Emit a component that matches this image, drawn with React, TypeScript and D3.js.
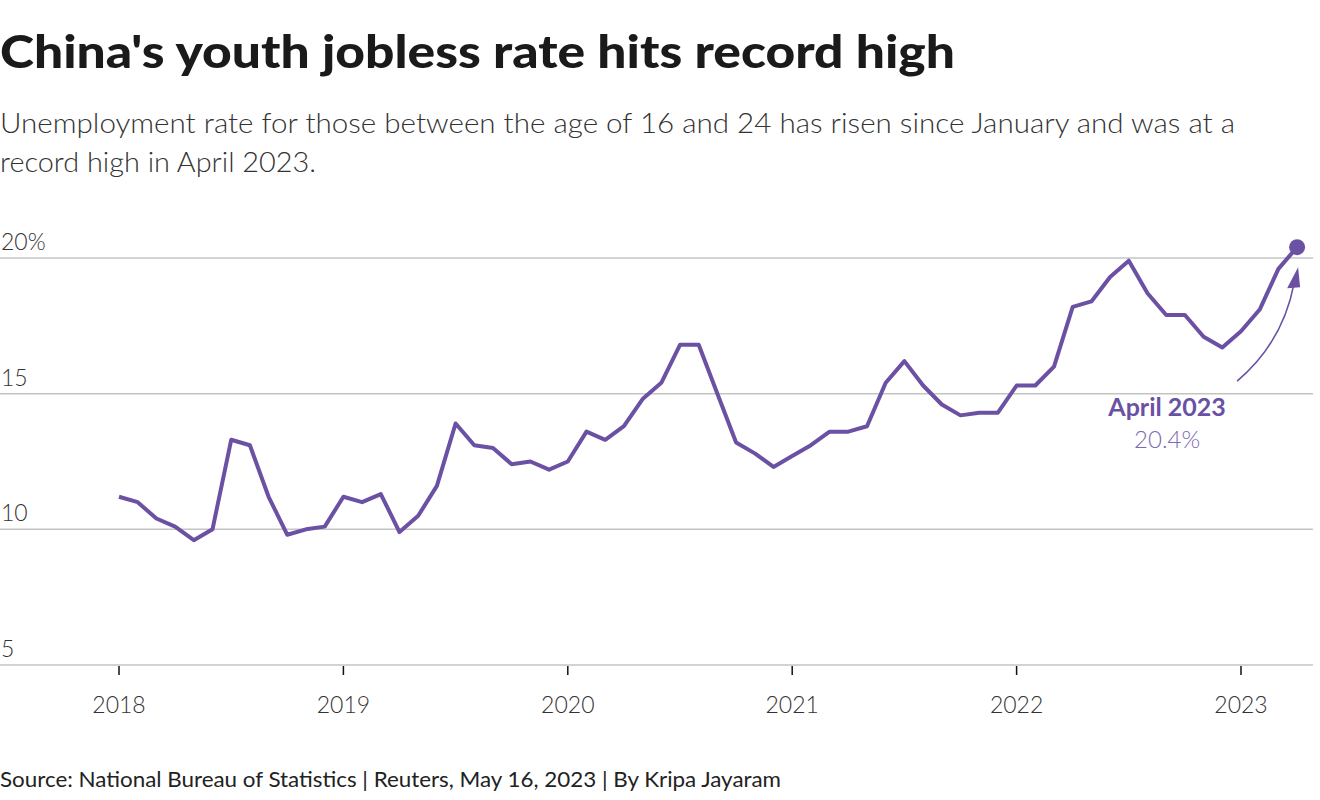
import React from "react";
import * as d3 from "d3";

const startYear = 2018;
const rates: number[] = [
  // 2018
  11.2, 11.0, 10.4, 10.1, 9.6, 10.0, 13.3, 13.1, 11.2, 9.8, 10.0, 10.1,
  // 2019
  11.2, 11.0, 11.3, 9.9, 10.5, 11.6, 13.9, 13.1, 13.0, 12.4, 12.5, 12.2,
  // 2020
  12.5, 13.6, 13.3, 13.8, 14.8, 15.4, 16.8, 16.8, 15.0, 13.2, 12.8, 12.3,
  // 2021
  12.7, 13.1, 13.6, 13.6, 13.8, 15.4, 16.2, 15.3, 14.6, 14.2, 14.3, 14.3,
  // 2022
  15.3, 15.3, 16.0, 18.2, 18.4, 19.3, 19.9, 18.7, 17.9, 17.9, 17.1, 16.7,
  // 2023
  17.3, 18.1, 19.6, 20.4,
];
const yearTicks = [2018, 2019, 2020, 2021, 2022, 2023];
const yTicks = [5, 10, 15, 20];
const yTickLabels = ["5", "10", "15", "20%"];

const title = "China's youth jobless rate hits record high";
const subtitleLines = [
  "Unemployment rate for those between the age of 16 and 24 has risen since January and was at a",
  "record high in April 2023.",
];
const subtitleWidths = [1235, 316];
const source = "Source: National Bureau of Statistics | Reuters, May 16, 2023 | By Kripa Jayaram";
const annoTitle = "April 2023";
const annoValue = "20.4%";

const FONT = "Lato, 'Noto Sans', sans-serif";
const PURPLE = "#6a51a3";

export default function App() {
  const width = 1320;
  const height = 800;
  const x = d3.scaleLinear().domain([0, 60]).range([119, 1241]);
  const y = d3.scaleLinear().domain([5, 20]).range([665, 258]);
  const line = d3
    .line<number>()
    .x((_, i) => x(i))
    .y((d) => y(d));
  const lastI = rates.length - 1;
  const lx = x(lastI);
  const ly = y(rates[lastI]);

  const ax0 = lx - 60;
  const ay0 = ly + 134;
  const tipX = lx + 1;
  const tipY = ly + 20;
  const arrowPath = `M${ax0},${ay0} Q${lx - 14},${ly + 95} ${tipX - 4},${tipY + 16}`;

  return (
    <svg
      width={width}
      height={height}
      style={{ position: "absolute", left: 0, top: 0, background: "#fff" }}
      fontFamily={FONT}
    >
      <text x={0} y={68} fontSize={45} fontWeight={900} fill="#1a1a1a" textLength={955} lengthAdjust="spacingAndGlyphs">
        {title}
      </text>
      {subtitleLines.map((t, i) => (
        <text
          key={i}
          x={0}
          y={133 + i * 39}
          fontSize={28}
          fontWeight={300}
          fill="#333"
          textLength={subtitleWidths[i]}
          lengthAdjust="spacingAndGlyphs"
        >
          {t}
        </text>
      ))}

      {yTicks.map((t, i) => (
        <g key={t}>
          <line x1={0} x2={1313} y1={y(t)} y2={y(t)} stroke="#c4c4c4" strokeWidth={1.5} />
          <text x={1} y={y(t) - 8} fontSize={23} fontWeight={300} fill="#333">
            {yTickLabels[i]}
          </text>
        </g>
      ))}

      {yearTicks.map((yr) => {
        const xi = x((yr - startYear) * 12);
        return (
          <g key={yr}>
            <line x1={xi} x2={xi} y1={y(5) + 1} y2={y(5) + 10} stroke="#111" strokeWidth={1.5} />
            <text x={xi} y={713} fontSize={23} fontWeight={300} fill="#333" textAnchor="middle">
              {yr}
            </text>
          </g>
        );
      })}

      <path d={line(rates) || ""} fill="none" stroke={PURPLE} strokeWidth={4} strokeLinejoin="round" />
      <circle cx={lx} cy={ly} r={8} fill={PURPLE} />

      <path d={arrowPath} fill="none" stroke={PURPLE} strokeWidth={1.6} />
      <path
        d={`M${tipX},${tipY} L${tipX - 11},${tipY + 21} L${tipX + 2},${tipY + 20} Z`}
        fill={PURPLE}
      />

      <text x={lx - 130} y={416} fontSize={25} fontWeight={700} fill={PURPLE} textAnchor="middle">
        {annoTitle}
      </text>
      <text x={lx - 130} y={448} fontSize={24} fontWeight={300} fill="#7d68b3" textAnchor="middle">
        {annoValue}
      </text>

      <text x={0} y={787} fontSize={21} fontWeight={400} fill="#222" textLength={781} lengthAdjust="spacingAndGlyphs">
        {source}
      </text>
    </svg>
  );
}
